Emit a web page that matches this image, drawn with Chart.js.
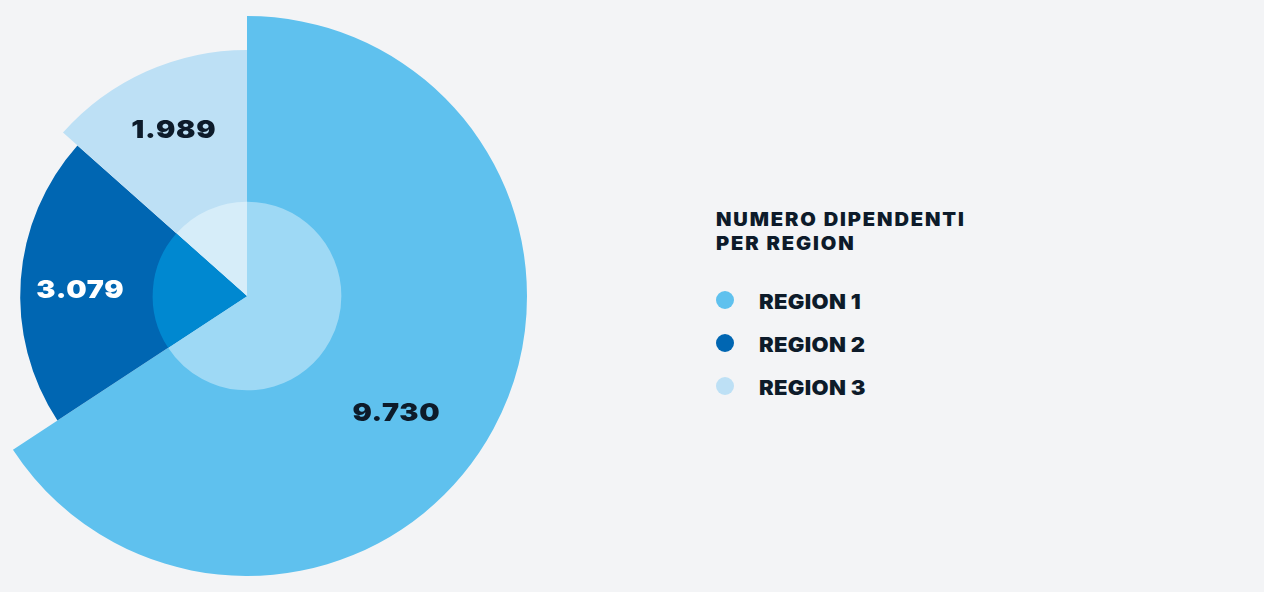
<!DOCTYPE html>
<html>
<head>
<meta charset="utf-8">
<script src="https://cdn.jsdelivr.net/npm/chart.js@4"></script>
<style>
  html, body { margin:0; padding:0; background:#f3f4f6; width:1264px; height:592px; overflow:hidden; font-family: Inter, "Noto Sans", sans-serif; }
  #wrap { position:absolute; left:-33px; top:0; width:560px; height:592px; }
  #legend { position:absolute; left:716px; top:207px; color:#0d1b2a; }
  #legend .title { font-weight:900; font-size:18.3px; line-height:24.4px; letter-spacing:1.7px; transform:scaleX(1.1); transform-origin:0 0; white-space:nowrap; }
  #legend ul { list-style:none; margin:0; padding:0; margin-top:36px; }
  #legend li { position:relative; height:43px; line-height:20px; font-weight:900; font-size:20px; }
  #legend li span.txt { position:absolute; left:43px; top:0; white-space:nowrap; letter-spacing:0.3px; transform:scaleX(1.1); transform-origin:0 0; }
  #legend li span.dot { position:absolute; left:0; top:-1px; width:18px; height:18px; border-radius:50%; }
</style>
</head>
<body>
<div id="wrap"><canvas id="c"></canvas></div>
<div id="legend"></div>
<script>
// ---- data ----
const categories = ["REGION 1", "REGION 2", "REGION 3"];
const values = [9730, 3079, 1989];
const legendTitle = ["NUMERO DIPENDENTI", "PER REGION"];

// ---- style ----
const outerColors = ["#5fc1ee", "#0066b2", "#bde0f5"];
const innerColors = ["#9ed9f5", "#0088d0", "#d6edf9"];
const labelColors = ["#0d1b2a", "#ffffff", "#0d1b2a"];
const radiusScale = [1.0, 0.81, 0.879];
const innerScale = 0.337;
const labelAngleFrac = [0.54, 0.477, 0.509];
const labelRadiusFrac = [0.674, 0.597, 0.652];
const labelFontSize = 25;

function fmt(v){ return String(v).replace(/\B(?=(\d{3})+(?!\d))/g, "."); }

const shapePlugin = {
  id: 'shape',
  afterDatasetsUpdate(chart){
    const ca = chart.chartArea;
    const maxR = Math.min(ca.right-ca.left, ca.bottom-ca.top)/2;
    const cx = (ca.left+ca.right)/2, cy = (ca.top+ca.bottom)/2;
    chart.getDatasetMeta(0).data.forEach(arc => {
      arc.x = cx; arc.y = cy; arc.innerRadius = 0; arc.outerRadius = maxR*innerScale;
    });
    chart.getDatasetMeta(1).data.forEach((arc,i) => {
      arc.x = cx; arc.y = cy; arc.innerRadius = 0; arc.outerRadius = maxR*radiusScale[i];
    });
  },
  afterDatasetsDraw(chart){
    const ctx = chart.ctx;
    const ca = chart.chartArea;
    const maxR = Math.min(ca.right-ca.left, ca.bottom-ca.top)/2;
    chart.getDatasetMeta(1).data.forEach((arc,i) => {
      const a = arc.startAngle + (arc.endAngle-arc.startAngle)*labelAngleFrac[i];
      const r = maxR*labelRadiusFrac[i];
      ctx.save();
      ctx.translate(arc.x + Math.cos(a)*r, arc.y + Math.sin(a)*r + labelFontSize*0.727/2);
      ctx.scale(1.15, 1);
      ctx.font = "900 " + labelFontSize + "px Inter";
      if ('letterSpacing' in ctx) ctx.letterSpacing = "0.6px";
      ctx.fillStyle = labelColors[i];
      ctx.textAlign = "center";
      ctx.textBaseline = "alphabetic";
      ctx.fillText(fmt(values[i]), 0.3, 0);
      ctx.restore();
    });
  }
};

new Chart(document.getElementById('c'), {
  type: 'pie',
  data: {
    labels: categories,
    datasets: [
      { data: values, backgroundColor: innerColors, borderWidth: 0 },
      { data: values, backgroundColor: outerColors, borderWidth: 0 }
    ]
  },
  options: {
    responsive: true,
    maintainAspectRatio: false,
    animation: false,
    layout: { padding: 0 },
    plugins: { legend: { display:false }, tooltip: { enabled:false } },
    events: []
  },
  plugins: [shapePlugin]
});

// HTML legend
const lg = document.getElementById('legend');
lg.innerHTML = '<div class="title">' + legendTitle.join('<br>') + '</div><ul>' +
  categories.map((c,i)=>'<li><span class="dot" style="background:'+outerColors[i]+'"></span><span class="txt">'+c+'</span></li>').join('') + '</ul>';
</script>
</body>
</html>
